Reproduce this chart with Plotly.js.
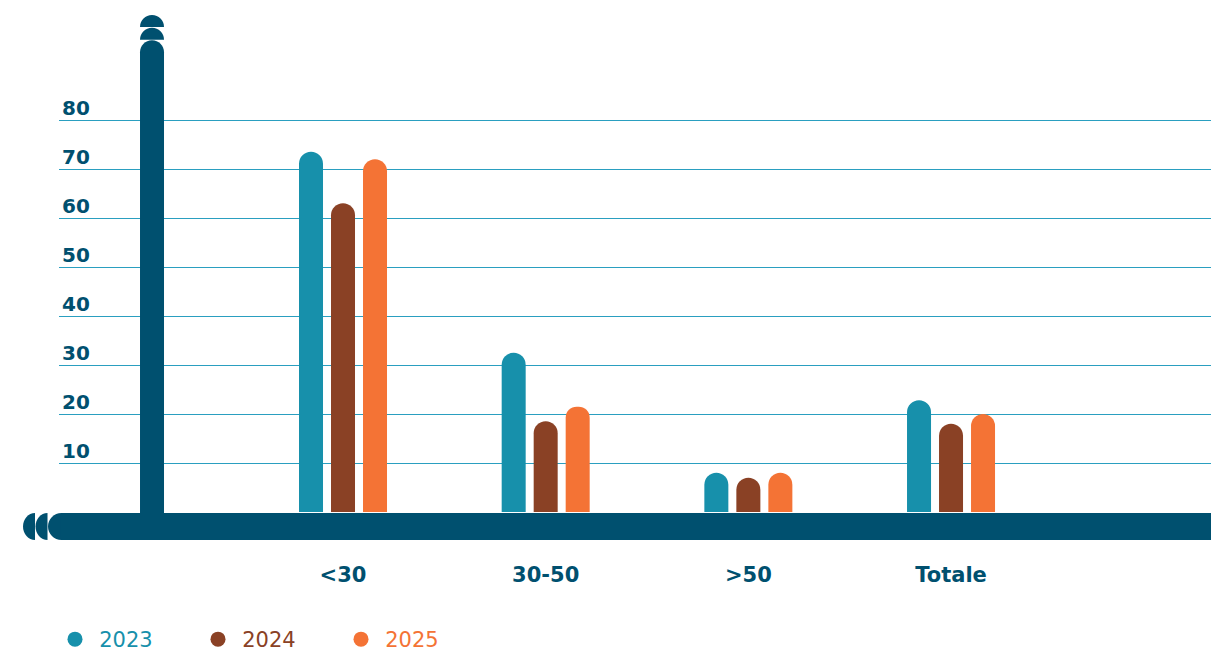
<!DOCTYPE html>
<html>
<head>
<meta charset="utf-8">
<script src="https://cdn.plot.ly/plotly-3.0.1.min.js"></script>
<style>
  html, body { margin: 0; padding: 0; background: #ffffff; }
  #chart { width: 1211px; height: 652px; }
</style>
</head>
<body>
<div id="chart"></div>
<script>
// ---- data ----
const categories = ['<30', '30-50', '>50', 'Totale'];
const years = ['2023', '2024', '2025'];
const values2023 = [73.5, 32.5, 8, 22.8];
const values2024 = [63, 18.5, 7, 18];
const values2025 = [72, 21.5, 8, 20];
const yTickValues = [10, 20, 30, 40, 50, 60, 70, 80];
const axisBarTop = 96.3; // decorative vertical axis bar height

// ---- styles ----
const DARK = '#00506f';
const COLORS = ['#1790ab', '#8a4125', '#f47335'];
const GRID = '#2a9fc0';
const FONT = 'DejaVu Sans, sans-serif';

const series = [values2023, values2024, values2025];

const traces = [];
series.forEach((vals, k) => {
  traces.push({
    type: 'bar',
    x: categories,
    y: vals,
    name: years[k],
    legendgroup: years[k],
    showlegend: false,
    marker: { color: COLORS[k], cornerradius: '50%', line: { width: 0 } },
    hovertemplate: '%{x} ' + years[k] + ': %{y}<extra></extra>'
  });
});
// legend entries with round markers and coloured text
years.forEach((yr, k) => {
  traces.push({
    type: 'scatter',
    mode: 'markers',
    x: [null],
    y: [null],
    name: '<span style="color:' + COLORS[k] + '">\u2009' + yr + '</span>',
    legendgroup: yr,
    marker: { color: COLORS[k], size: 15, symbol: 'circle' },
    hoverinfo: 'skip'
  });
});

// ---- decorative shapes ----
const K = 0.5523;
function dome(cx, y0, ytop, rx, ry) {
  const ys = ytop - ry;
  return 'M ' + (cx - rx) + ',' + y0 +
    ' L ' + (cx - rx) + ',' + ys +
    ' C ' + (cx - rx) + ',' + (ys + K * ry) + ' ' + (cx - K * rx) + ',' + ytop + ' ' + cx + ',' + ytop +
    ' C ' + (cx + K * rx) + ',' + ytop + ' ' + (cx + rx) + ',' + (ys + K * ry) + ' ' + (cx + rx) + ',' + ys +
    ' L ' + (cx + rx) + ',' + y0 + ' Z';
}
// horizontal half-disc facing left, in paper coords
function leftHalf(xr, yc, rx, ry) {
  return 'M ' + xr + ',' + (yc - ry) +
    ' C ' + (xr - K * rx) + ',' + (yc - ry) + ' ' + (xr - rx) + ',' + (yc - K * ry) + ' ' + (xr - rx) + ',' + yc +
    ' C ' + (xr - rx) + ',' + (yc + K * ry) + ' ' + (xr - K * rx) + ',' + (yc + ry) + ' ' + xr + ',' + (yc + ry) + ' Z';
}

const W = 1211, H = 652;
const M = { l: 59, r: 0, t: 0, b: 92 };
const PW = W - M.l - M.r, PH = H - M.t - M.b;
const px2paperX = p => (p - M.l) / PW;
const px2paperY = p => (PH + M.t - p) / PH;

// x axis: category index units
const xRange = [-1.4013, 4.2827];
const yRange = [-9.796, 104.49];
const uX = PW / (xRange[1] - xRange[0]); // px per category unit
const uY = PH / (yRange[1] - yRange[0]); // px per y unit
const axisX = -0.9424;
const rx = 12 / uX, ry = 12 / uY;

const shapes = [];
// vertical decorative axis bar
shapes.push({ type: 'path', xref: 'x', yref: 'y', layer: 'above', line: { width: 0 }, fillcolor: DARK,
  path: dome(axisX, -1, axisBarTop, rx, ry) });
// two caps above it
const cap2Base = axisBarTop + 0.1;
shapes.push({ type: 'path', xref: 'x', yref: 'y', layer: 'above', line: { width: 0 }, fillcolor: DARK,
  path: dome(axisX, cap2Base, cap2Base + ry, rx, ry) });
const cap1Base = cap2Base + ry + 0.15;
shapes.push({ type: 'path', xref: 'x', yref: 'y', layer: 'above', line: { width: 0 }, fillcolor: DARK,
  path: dome(axisX, cap1Base, cap1Base + ry, rx, ry) });

// horizontal band (paper coords so it can extend left of the plot)
const bandTop = px2paperY(513), bandBot = px2paperY(540);
const bandMid = (bandTop + bandBot) / 2;
const bandRy = (bandTop - bandBot) / 2;
const bandRxPaper = 13.5 / PW;
const bandStart = px2paperX(61.5);
shapes.push({ type: 'path', xref: 'paper', yref: 'paper', layer: 'above', line: { width: 0 }, fillcolor: DARK,
  path: leftHalf(bandStart, bandMid, bandRxPaper, bandRy) });
shapes.push({ type: 'rect', xref: 'paper', yref: 'paper', layer: 'above', line: { width: 0 }, fillcolor: DARK,
  x0: bandStart - 0.0005, x1: 1.01, y0: bandBot, y1: bandTop });
// the two small half discs at the left end
shapes.push({ type: 'path', xref: 'paper', yref: 'paper', layer: 'above', line: { width: 0 }, fillcolor: DARK,
  path: leftHalf(px2paperX(47.5), bandMid, 12 / PW, bandRy) });
shapes.push({ type: 'path', xref: 'paper', yref: 'paper', layer: 'above', line: { width: 0 }, fillcolor: DARK,
  path: leftHalf(px2paperX(35), bandMid, 12 / PW, bandRy) });

const layout = {
  width: W, height: H,
  margin: M,
  paper_bgcolor: '#ffffff',
  plot_bgcolor: '#ffffff',
  font: { family: FONT, color: DARK },
  barmode: 'group',
  bargap: 0.5263,
  bargroupgap: 0.25,
  showlegend: true,
  legend: {
    orientation: 'h',
    xref: 'container', yref: 'container',
    x: 55 / W, xanchor: 'left',
    y: (H - 619) / H, yanchor: 'top',
    font: { family: FONT, size: 21 },
    entrywidth: 98,
    bgcolor: 'rgba(0,0,0,0)',
    traceorder: 'normal'
  },
  xaxis: {
    type: 'category',
    range: xRange,
    showgrid: false,
    zeroline: false,
    showline: false,
    ticks: '',
    automargin: false,
    tickfont: { family: FONT, size: 21, color: DARK, weight: 'bold' },
    fixedrange: true
  },
  yaxis: {
    range: yRange,
    tickvals: yTickValues,
    ticktext: yTickValues.map(String),
    ticklabelposition: 'inside',
    ticklabelshift: -12,
    ticklabelstandoff: 0,
    automargin: false,
    tickfont: { family: FONT, size: 20, color: DARK, weight: 'bold' },
    showgrid: true,
    gridcolor: GRID,
    gridwidth: 1,
    zeroline: false,
    showline: false,
    ticks: '',
    fixedrange: true
  },
  shapes: shapes
};

Plotly.newPlot('chart', traces, layout, { displayModeBar: false, staticPlot: true });
</script>
</body>
</html>
